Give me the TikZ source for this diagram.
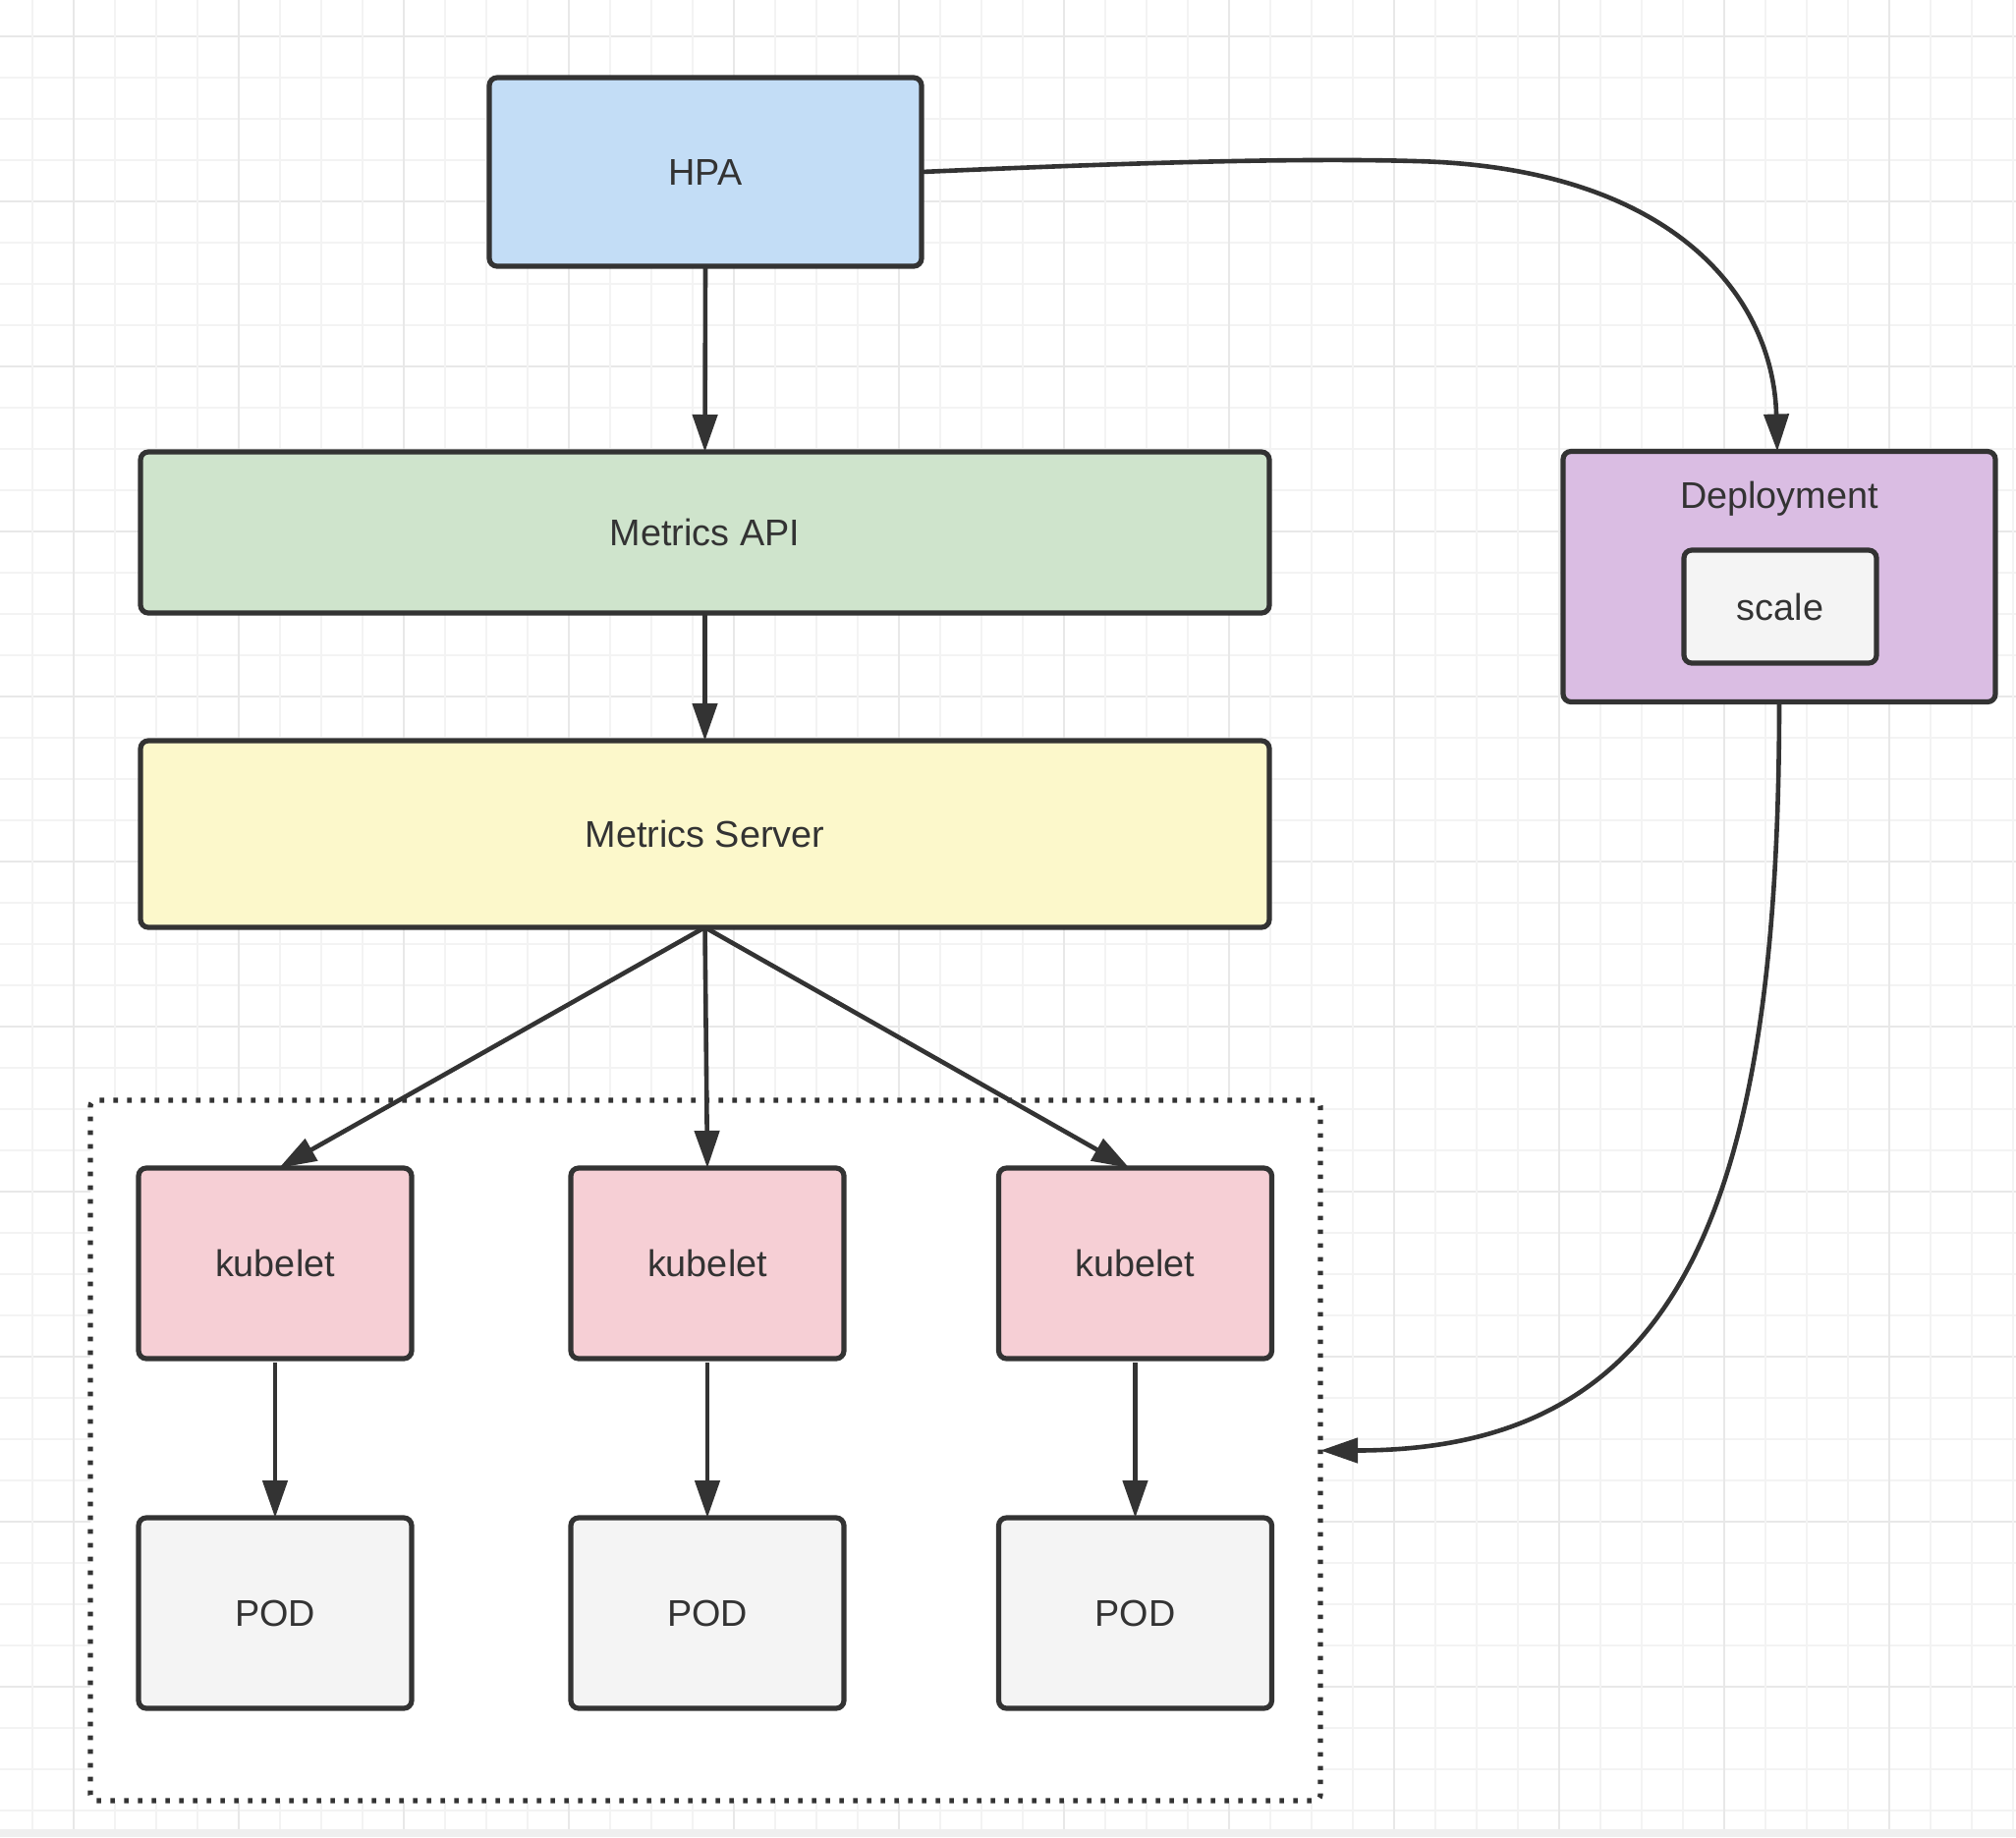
\documentclass[tikz,border=0pt]{standalone}
\usepackage{fontspec}
\setmainfont{Liberation Sans}
\usetikzlibrary{arrows.meta}
\definecolor{ink}{HTML}{333333}
\definecolor{hpafill}{HTML}{C3DDF6}
\definecolor{apifill}{HTML}{CFE4CC}
\definecolor{msfill}{HTML}{FCF8CB}
\definecolor{depfill}{HTML}{DABDE3}
\definecolor{kubfill}{HTML}{F6CFD5}
\definecolor{podfill}{HTML}{F4F4F4}
\definecolor{gridminor}{HTML}{F3F3F3}
\definecolor{gridmajor}{HTML}{E8E8E8}
\definecolor{stripgray}{HTML}{EFEFEF}
\begin{document}
\begin{tikzpicture}[x=0.5pt,y=-0.5pt,
  lbl/.style={text=ink, font=\fontsize{18.9pt}{22pt}\selectfont, inner sep=0pt},
  box/.style={lbl, draw=ink, line width=2.6pt, rounded corners=4pt, outer sep=0pt},
  conn/.style={draw=ink, line width=2.3pt, -{Triangle[length=19pt,width=12.5pt]}},
  gminor/.style={draw=gridminor, line width=1pt},
  gmajor/.style={draw=gridmajor, line width=1pt},
]
\useasboundingbox (0,0) rectangle (2052,1870);
\fill[white] (0,0) rectangle (2052,1870);
% background grid
\foreach \k in {0,...,43}{
  \pgfmathtruncatemacro{\m}{mod(\k,4)}
  \ifnum\m=0
    \draw[gmajor] (0,36.7+42*\k) -- (2052,36.7+42*\k);
  \else
    \draw[gminor] (0,36.7+42*\k) -- (2052,36.7+42*\k);
  \fi
}
\foreach \k in {0,...,48}{
  \pgfmathtruncatemacro{\m}{mod(\k,4)}
  \ifnum\m=1
    \draw[gmajor] (32.6+42*\k,0) -- (32.6+42*\k,1862);
  \else
    \draw[gminor] (32.6+42*\k,0) -- (32.6+42*\k,1862);
  \fi
}
\fill[stripgray] (0,1862) rectangle (2052,1870);

% container
\node[draw=ink, fill=white, line width=2.6pt, dash pattern=on 2.3pt off 4.7pt,
      rounded corners=3pt, inner sep=0pt, outer sep=0pt,
      minimum width=626pt, minimum height=356.5pt] (cont) at (718,1476.5) {};

% boxes
\node[box, fill=hpafill, minimum width=220pt, minimum height=96pt] (hpa) at (718,175) {HPA};
\node[box, fill=apifill, minimum width=574.5pt, minimum height=82pt] (api) at (717.5,542) {Metrics API};
\node[box, fill=msfill, minimum width=574.5pt, minimum height=95pt] (ms) at (717.5,849) {Metrics Server};
\node[box, fill=depfill, minimum width=220pt, minimum height=127.5pt] (dep) at (1811,587) {};
\node[lbl] (deptext) at (1811,508) {Deployment};
\node[box, fill=podfill, minimum width=98pt, minimum height=57.5pt] (scale) at (1812,617.5) {scale};

\node[box, fill=kubfill, minimum width=139pt, minimum height=97pt] (k1) at (280,1286) {kubelet};
\node[box, fill=kubfill, minimum width=139pt, minimum height=97pt] (k2) at (720,1286) {kubelet};
\node[box, fill=kubfill, minimum width=139pt, minimum height=97pt] (k3) at (1155.5,1286) {kubelet};
\node[box, fill=podfill, minimum width=139pt, minimum height=97pt] (p1) at (280,1642) {POD};
\node[box, fill=podfill, minimum width=139pt, minimum height=97pt] (p2) at (720,1642) {POD};
\node[box, fill=podfill, minimum width=139pt, minimum height=97pt] (p3) at (1155.5,1642) {POD};

% connectors
\draw[conn] (hpa.south) -- (api.north);
\draw[conn] (api.south) -- (ms.north);
\draw[conn] (ms.south) -- ([xshift=2pt]k1.north);
\draw[conn] (ms.south) -- (k2.north);
\draw[conn] (ms.south) -- ([xshift=-3pt]k3.north);
\draw[conn, shorten <=2pt] (k1.south) -- (p1.north);
\draw[conn, shorten <=2pt] (k2.south) -- (p2.north);
\draw[conn, shorten <=2pt] (k3.south) -- (p3.north);

\coordinate (hbend) at (1440,164);
\draw[conn] (hpa.east) .. controls (1100,168) and (1300,160) .. (hbend)
   .. controls (1700,170) and (1805,300) .. ([xshift=-1pt]dep.north);
\draw[conn] (dep.south) .. controls +(0,534) and +(356,0) .. (cont.east);
\end{tikzpicture}
\end{document}
